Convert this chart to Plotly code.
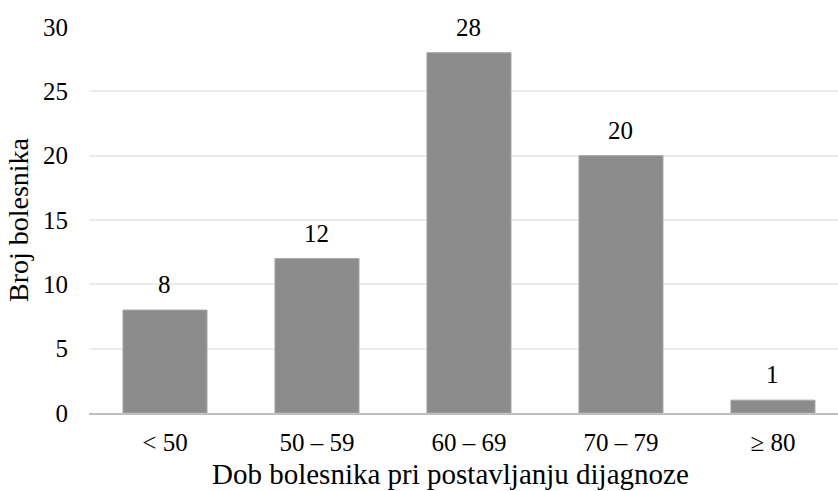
import plotly.graph_objects as go

# Age groups at diagnosis and number of patients in each
age_groups = ["< 50", "50 – 59", "60 – 69", "70 – 79", "≥ 80"]
patients = [8, 12, 28, 20, 1]
y_ticks = [0, 5, 10, 15, 20, 25, 30]

FONT = "Times New Roman, Liberation Serif, DejaVu Serif, serif"
SIZE = 25
TITLE_SIZE = 28

fig = go.Figure()
fig.add_trace(go.Bar(
    x=list(range(len(age_groups))),
    y=patients,
    width=0.553,
    marker=dict(color="#8c8c8c", line=dict(color="#a6a6a6", width=1)),
    hoverinfo="skip",
))

# value labels above each bar
for i, v in enumerate(patients):
    fig.add_annotation(x=i, y=v, text=str(v), showarrow=False,
                       yanchor="bottom", yshift=10,
                       font=dict(family=FONT, size=SIZE, color="#000000"))

# x-axis title, placed as free text below the tick labels
fig.add_annotation(text="Dob bolesnika pri postavljanju dijagnoze",
                   xref="paper", yref="paper", x=0.4833, y=-0.158,
                   xanchor="center", yanchor="middle", showarrow=False,
                   font=dict(family=FONT, size=29, color="#000000"))

fig.update_layout(
    width=838, height=491,
    margin=dict(l=89, r=0, t=27, b=78),
    plot_bgcolor="white", paper_bgcolor="white",
    showlegend=False,
    font=dict(family=FONT, size=SIZE, color="#000000"),
    xaxis=dict(
        tickmode="array", tickvals=list(range(len(age_groups))), ticktext=age_groups,
        range=[-0.5, 4.428], showgrid=False, zeroline=False,
        showline=True, linecolor="#bfbfbf", linewidth=2,
        ticks="", ticklabelstandoff=6,
        tickfont=dict(family=FONT, size=SIZE),
    ),
    yaxis=dict(
        range=[0, 30], tickvals=y_ticks, showgrid=True, gridcolor="#ececec", gridwidth=2,
        zeroline=False, ticks="", ticklabelstandoff=20,
        tickfont=dict(family=FONT, size=SIZE),
        title=dict(text="Broj bolesnika", standoff=6, font=dict(family=FONT, size=TITLE_SIZE)),
    ),
)

fig.write_html("out.html")
